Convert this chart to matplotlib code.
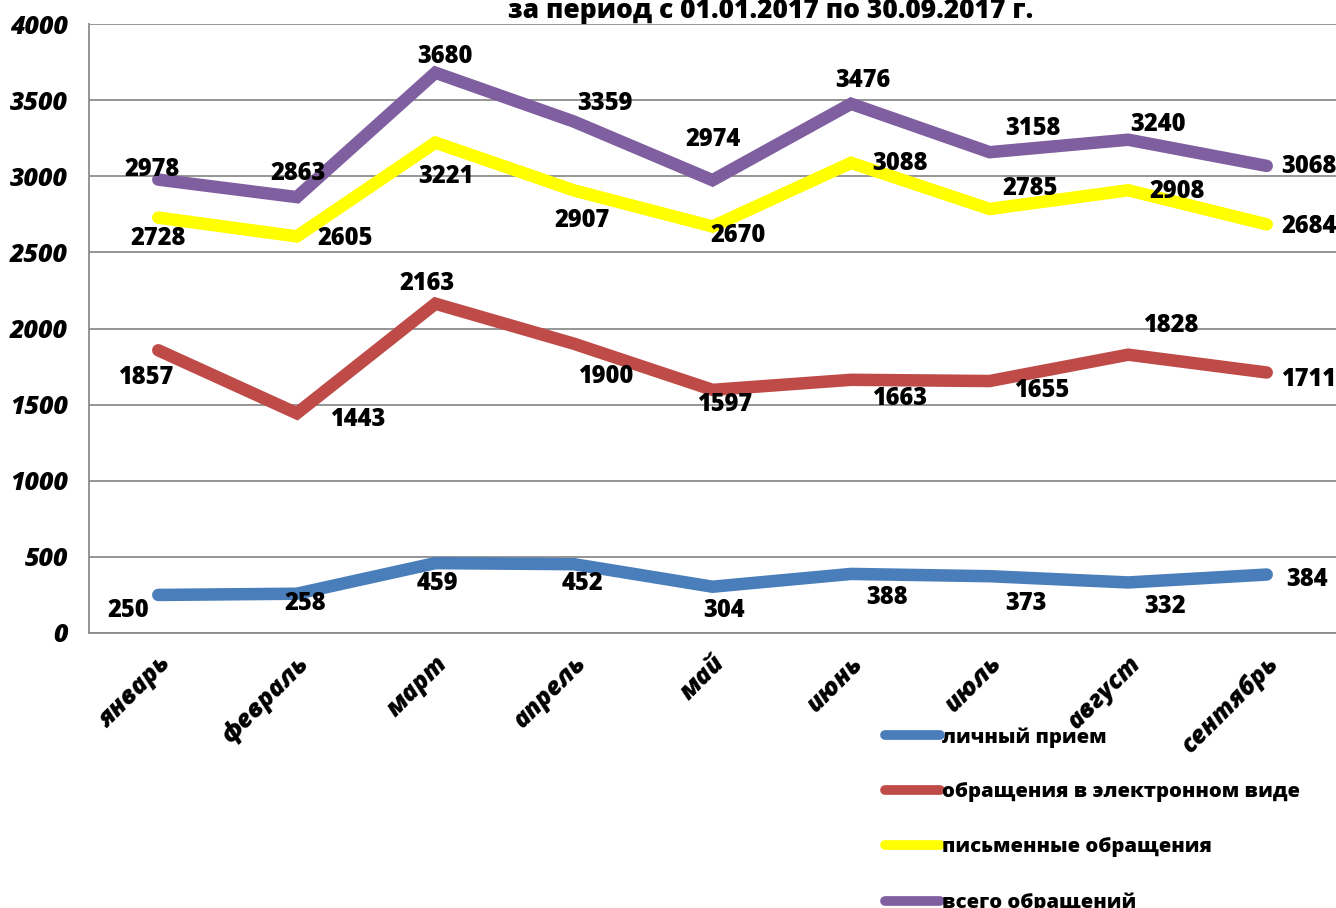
import matplotlib.pyplot as plt
import numpy as np

plt.rcParams['font.family'] = ['Open Sans', 'DejaVu Sans']

months = ['январь', 'февраль', 'март', 'апрель', 'май', 'июнь', 'июль', 'август', 'сентябрь']

lichny = [250, 258, 459, 452, 304, 388, 373, 332, 384]
electron = [1857, 1443, 2163, 1900, 1597, 1663, 1655, 1828, 1711]
pismen = [2728, 2605, 3221, 2907, 2670, 3088, 2785, 2908, 2684]
vsego = [2978, 2863, 3680, 3359, 2974, 3476, 3158, 3240, 3068]

names = ['личный прием', 'обращения в электронном виде', 'письменные обращения', 'всего обращений']
colors = ['#4A7EBB', '#BE4B48', '#FFFF00', '#7F5FA0']

# смещения подписей в пикселях (dx, dy), dy вверх
off_lichny = [(-30, -16), (8, -10), (2, -20), (8, -19), (12, -24), (36, -24), (36, -27), (37, -24), (40, -5)]
off_electron = [(-13, -27), (61, -6), (-8, 20), (32, -33), (12, -15), (49, -19), (52, -9), (43, 29), (42, -7)]
off_pismen = [(0, -21), (48, -2), (11, -34), (8, -30), (26, -9), (49, -1), (41, 20), (49, -1), (42, -2)]
off_vsego = [(-6, 10), (1, 24), (10, 16), (31, 18), (1, 41), (12, 23), (43, 24), (30, 15), (42, -1)]

fig = plt.figure(figsize=(13.36, 9.08), dpi=100)
ax = fig.add_axes([89/1336, (908-633)/908, (1336-89)/1336, 609/908])

x = np.arange(len(months))
series = [lichny, electron, pismen, vsego]
offsets = [off_lichny, off_electron, off_pismen, off_vsego]

for vals, col, nm in zip(series, colors, names):
    ax.plot(x, vals, color=col, lw=9, solid_capstyle='round', solid_joinstyle='miter', label=nm)

for vals, offs in zip(series, offsets):
    for xi, v, (dx, dy) in zip(x, vals, offs):
        ax.annotate(str(v), (xi, v), xytext=(dx, dy), textcoords='offset pixels',
                    ha='center', va='center', fontsize=17, fontweight=800)

ax.set_xlim(-0.5, len(months) - 0.5)
ax.set_ylim(0, 4000)
ax.set_yticks(np.arange(0, 4001, 500))
ax.grid(axis='y', color='#8c8c8c', lw=1.3)
ax.set_axisbelow(True)
for s in ['top', 'right']:
    ax.spines[s].set_visible(False)
for s in ['left', 'bottom']:
    ax.spines[s].set_color('#8c8c8c')
    ax.spines[s].set_linewidth(1.3)

ax.tick_params(axis='both', length=0)
ax.tick_params(axis='y', pad=15)
ax.set_yticklabels([str(v) for v in range(0, 4001, 500)], fontsize=18, fontweight=800, fontstyle='italic')
ax.set_xticks(x)
ax.set_xticklabels(months, rotation=45, ha='right', rotation_mode='anchor',
                   fontsize=18, fontweight=800, fontstyle='italic')
ax.tick_params(axis='x', pad=13)

fig.text(771/1336, 1 - 18/908, 'за период с 01.01.2017 по 30.09.2017 г.', ha='center', va='baseline',
         fontsize=19, fontweight=800)

leg = fig.legend(loc='upper left', bbox_to_anchor=(885/1336, 1 - 727/908), frameon=False,
                 fontsize=14.6, handlelength=2.7, handletextpad=0.1, labelspacing=1.72, borderpad=0,
                 borderaxespad=0)
for t in leg.get_texts():
    t.set_fontweight(800)
for h in leg.get_lines():
    h.set_linewidth(7)
    h.set_solid_capstyle('round')

fig.savefig('out.png', dpi=100)
